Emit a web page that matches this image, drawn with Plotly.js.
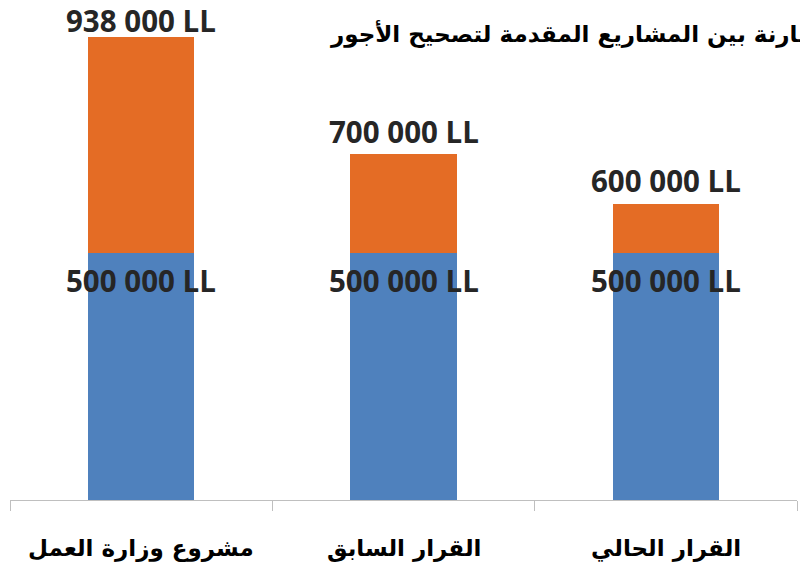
<!DOCTYPE html>
<html><head><meta charset="utf-8">
<script src="https://cdn.plot.ly/plotly-3.0.1.min.js"></script>
<style>html,body{margin:0;padding:0;background:#fff}#chart{width:800px;height:563px}</style>
</head><body><div id="chart"></div>
<script>
const categories = ["مشروع وزارة العمل", "القرار السابق", "القرار الحالي"];
const baseValues = [500000, 500000, 500000];
const topValues = [438000, 200000, 100000];
const totalLabels = ["938 000 LL", "700 000 LL", "600 000 LL"];
const baseLabels = ["500 000 LL", "500 000 LL", "500 000 LL"];
const titleText = "مقارنة بين المشاريع المقدمة لتصحيح الأجور";

const numFont = {family: "Open Sans", size: 29.5, color: "#262626", weight: 700};
const arFont = {family: "DejaVu Sans", size: 23, color: "#000", weight: 700};

const H = 563, mt = 6, mb = 63, yMax = 1000000;
const plotH = H - mt - mb;
function pix(v) { return mt + plotH * (1 - v / yMax); }

const annotations = [];
categories.forEach((c, i) => {
  const total = baseValues[i] + topValues[i];
  const barTop = pix(total);
  const center = Math.max(barTop - 23, 20);
  annotations.push({x: c, y: total, xref: "x", yref: "y",
    text: totalLabels[i], showarrow: false, yanchor: "middle", yshift: barTop - center, font: numFont});
  annotations.push({x: c, y: baseValues[i], xref: "x", yref: "y",
    text: baseLabels[i], showarrow: false, yanchor: "middle", yshift: -27, font: numFont});
  annotations.push({x: c, y: 0, xref: "x", yref: "y",
    text: categories[i], showarrow: false, yanchor: "middle", yshift: -48, font: arFont});
});
annotations.push({x: 0.404, y: 1.0, xref: "paper", yref: "paper", xanchor: "left", yanchor: "middle",
  yshift: -27, text: titleText, showarrow: false, font: arFont});

const data = [
  {type: "bar", x: categories, y: baseValues, marker: {color: "#4F81BD"}, width: 0.405, hoverinfo: "none"},
  {type: "bar", x: categories, y: topValues, marker: {color: "#E46C25"}, width: 0.405, hoverinfo: "none"}
];
const layout = {
  width: 800, height: H, barmode: "stack", showlegend: false,
  margin: {l: 10, r: 3, t: mt, b: mb},
  paper_bgcolor: "#fff", plot_bgcolor: "#fff",
  xaxis: {type: "category", range: [-0.5, 2.5], showticklabels: false, tickson: "boundaries",
    ticks: "outside", ticklen: 10, tickcolor: "#BFBFBF", showline: true, linecolor: "#BFBFBF",
    linewidth: 1, showgrid: false, zeroline: false},
  yaxis: {range: [0, yMax], visible: false, showgrid: false, zeroline: false},
  annotations: annotations
};
Plotly.newPlot("chart", data, layout, {staticPlot: true});
</script></body></html>
